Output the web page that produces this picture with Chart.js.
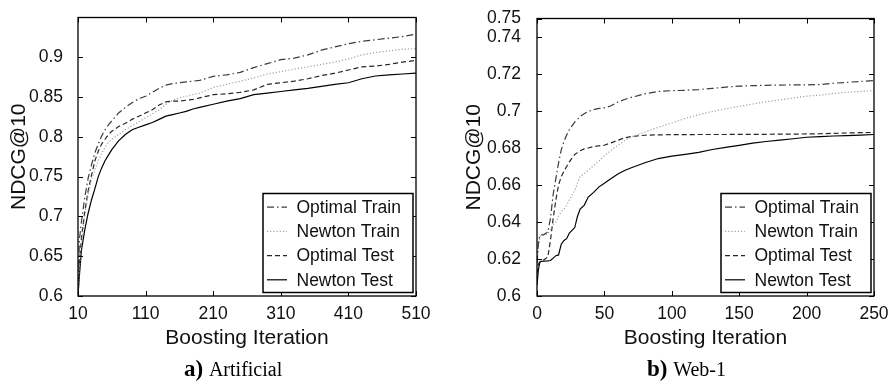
<!DOCTYPE html>
<html>
<head>
<meta charset="utf-8">
<script src="https://cdn.jsdelivr.net/npm/chart.js@4.4.1/dist/chart.umd.min.js"></script>
<style>
  html, body { margin: 0; padding: 0; background: #fff; }
  #wrap { position: relative; width: 894px; height: 382px; }
  canvas { position: absolute; top: 0; }
  #chartA { left: 0; }
  #chartB { left: 447px; }
</style>
</head>
<body>
<div id="wrap">
  <canvas id="chartA" width="447" height="382"></canvas>
  <canvas id="chartB" width="447" height="382"></canvas>
</div>
<script>
// Legend labels, same order in both panels
const seriesLabels = ['Optimal Train', 'Newton Train', 'Optimal Test', 'Newton Test'];

// a) Artificial
const itersA = [10, 12, 15, 20, 25, 30, 35, 40, 45, 50, 55, 60, 70, 80, 90, 100, 110, 120, 130, 140,
    150, 160, 170, 180, 190, 210, 230, 250, 270, 290, 310, 330, 350, 370, 390, 410, 430, 450, 470, 490, 510];
const optTrainA = [0.600, 0.670, 0.693, 0.724, 0.748, 0.765, 0.780, 0.791, 0.801, 0.809, 0.815, 0.820, 0.830, 0.837,
    0.843, 0.848, 0.851, 0.856, 0.861, 0.865, 0.867, 0.868, 0.869, 0.870, 0.871, 0.876, 0.878, 0.881, 0.887, 0.892,
    0.897, 0.899, 0.903, 0.909, 0.913, 0.917, 0.920, 0.922, 0.924, 0.926, 0.929];
const newtonTrainA = [0.600, 0.635, 0.665, 0.700, 0.728, 0.746, 0.759, 0.770, 0.779, 0.787, 0.793, 0.797, 0.803, 0.809,
    0.814, 0.819, 0.824, 0.829, 0.834, 0.841, 0.846, 0.849, 0.851, 0.853, 0.855, 0.862, 0.866, 0.870, 0.874, 0.879,
    0.882, 0.885, 0.888, 0.891, 0.894, 0.898, 0.903, 0.906, 0.908, 0.910, 0.911];
const optTestA = [0.600, 0.640, 0.672, 0.706, 0.732, 0.752, 0.770, 0.782, 0.791, 0.797, 0.803, 0.807, 0.813, 0.817,
    0.822, 0.826, 0.830, 0.834, 0.840, 0.844, 0.845, 0.845, 0.846, 0.847, 0.849, 0.853, 0.854, 0.856, 0.859, 0.866,
    0.868, 0.870, 0.873, 0.877, 0.880, 0.884, 0.888, 0.889, 0.891, 0.894, 0.896];
const newtonTestA = [0.600, 0.625, 0.657, 0.683, 0.704, 0.721, 0.735, 0.750, 0.761, 0.770, 0.777, 0.784, 0.795, 0.803,
    0.809, 0.812, 0.815, 0.818, 0.822, 0.826, 0.828, 0.830, 0.832, 0.835, 0.837, 0.841, 0.845, 0.848, 0.853, 0.855,
    0.857, 0.859, 0.861, 0.8635, 0.866, 0.868, 0.873, 0.8765, 0.878, 0.879, 0.880];
const xTicksA = [10, 110, 210, 310, 410, 510];
const yTicksA = [0.6, 0.65, 0.7, 0.75, 0.8, 0.85, 0.9];

// b) Web-1
const itersB = [0, 1, 2, 3, 5, 8, 10, 12, 14, 16, 18, 20, 22, 24, 26, 28, 30, 32, 35, 38, 42, 46, 50, 55, 60, 65,
    70, 75, 80, 90, 100, 110, 120, 130, 140, 150, 160, 170, 180, 190, 200, 210, 220, 230, 240, 250];
const optTrainB = [0.618, 0.628, 0.6328, 0.633, 0.6332, 0.6345, 0.642, 0.655, 0.6635, 0.672, 0.679, 0.6835, 0.687,
    0.690, 0.692, 0.694, 0.6955, 0.697, 0.6985, 0.6998, 0.7007, 0.7014, 0.7017, 0.7028, 0.7049, 0.7062, 0.7074,
    0.7083, 0.7093, 0.7106, 0.711, 0.7112, 0.7116, 0.7122, 0.7129, 0.7134, 0.7137, 0.7139, 0.714, 0.7141, 0.7141,
    0.7143, 0.715, 0.7155, 0.716, 0.7165];
const newtonTrainB = [0.615, 0.626, 0.632, 0.6328, 0.633, 0.6335, 0.636, 0.6385, 0.640, 0.643, 0.6455, 0.647, 0.649,
    0.652, 0.6545, 0.657, 0.661, 0.6645, 0.666, 0.668, 0.6705, 0.673, 0.6758, 0.6788, 0.6815, 0.684, 0.686, 0.6873,
    0.6885, 0.6912, 0.6935, 0.696, 0.698, 0.6997, 0.7012, 0.7025, 0.7038, 0.705, 0.706, 0.707, 0.708, 0.7086, 0.7095,
    0.7101, 0.7106, 0.711];
const optTestB = [0.612, 0.617, 0.6185, 0.619, 0.6195, 0.621, 0.630, 0.642, 0.652, 0.660, 0.6645, 0.6675, 0.670,
    0.6725, 0.6745, 0.6765, 0.6775, 0.6785, 0.6795, 0.680, 0.6808, 0.6812, 0.6815, 0.6828, 0.6842, 0.6855, 0.6862,
    0.6866, 0.6869, 0.6871, 0.6872, 0.6872, 0.6873, 0.6873, 0.6873, 0.6874, 0.6874, 0.6874, 0.6875, 0.6875, 0.6876,
    0.6877, 0.6879, 0.6881, 0.6883, 0.6884];
const newtonTestB = [0.606, 0.614, 0.618, 0.6187, 0.6188, 0.619, 0.6192, 0.6205, 0.6218, 0.6222, 0.628, 0.630, 0.631,
    0.634, 0.6355, 0.637, 0.643, 0.647, 0.649, 0.6535, 0.656, 0.659, 0.661, 0.6635, 0.666, 0.6678, 0.6693, 0.6707,
    0.672, 0.6743, 0.6756, 0.6766, 0.6776, 0.6792, 0.6803, 0.6814, 0.6826, 0.6835, 0.6843, 0.685, 0.6858, 0.6862,
    0.6865, 0.6867, 0.687, 0.6873];
const xTicksB = [0, 50, 100, 150, 200, 250];
const yTicksB = [0.6, 0.62, 0.64, 0.66, 0.68, 0.7, 0.72, 0.74, 0.75];

// Line styles: dash-dot, dotted, dashed, solid
const lineStyles = [
    { color: '#3c3c3c', dash: [7, 3, 1.5, 3], width: 1.2 },
    { color: '#a0a0a0', dash: [1.2, 2], width: 1.2 },
    { color: '#262626', dash: [5, 3], width: 1.2 },
    { color: '#000000', dash: [], width: 1.2 }
];

const SANS = '"Liberation Sans", Arial, Helvetica, sans-serif';
const SERIF = '"Liberation Serif", "Times New Roman", serif';

function makeDatasets(iters, seriesList) {
    return seriesList.map((vals, i) => ({
        label: seriesLabels[i],
        data: iters.map((x, k) => ({ x: x, y: vals[k] })),
        borderColor: lineStyles[i].color,
        borderDash: lineStyles[i].dash,
        borderWidth: lineStyles[i].width,
        pointRadius: 0,
        tension: 0,
        fill: false
    }));
}

// Box frame, inward ticks on all four sides, legend box and caption
function decorPlugin(caption) {
    return {
        id: 'decor',
        afterDatasetsDraw(chart) {
            const { ctx, chartArea: a, scales: { x, y } } = chart;
            ctx.save();
            ctx.strokeStyle = '#000';
            ctx.lineWidth = 1.3;
            ctx.setLineDash([]);
            ctx.strokeRect(a.left, a.top, a.right - a.left, a.bottom - a.top);

            ctx.lineWidth = 1;
            ctx.beginPath();
            x.ticks.forEach(t => {
                const px = Math.round(x.getPixelForValue(t.value)) + 0.5;
                ctx.moveTo(px, a.bottom); ctx.lineTo(px, a.bottom - 5);
                ctx.moveTo(px, a.top); ctx.lineTo(px, a.top + 5);
            });
            y.ticks.forEach(t => {
                const py = Math.round(y.getPixelForValue(t.value)) + 0.5;
                ctx.moveTo(a.left, py); ctx.lineTo(a.left + 5, py);
                ctx.moveTo(a.right, py); ctx.lineTo(a.right - 5, py);
            });
            ctx.stroke();

            // legend box in the lower right corner
            const bw = 150, bh = 99;
            const bx = a.right - 3 - bw, by = a.bottom - 3.5 - bh;
            ctx.fillStyle = '#fff';
            ctx.fillRect(bx, by, bw, bh);
            ctx.lineWidth = 1.5;
            ctx.strokeRect(bx, by, bw, bh);
            ctx.font = '17.5px ' + SANS;
            ctx.textBaseline = 'middle';
            ctx.textAlign = 'left';
            chart.data.datasets.forEach((ds, i) => {
                const ry = by + 13.7 + i * 24.2;
                ctx.strokeStyle = ds.borderColor;
                ctx.lineWidth = ds.borderWidth;
                ctx.setLineDash(ds.borderDash);
                ctx.beginPath();
                ctx.moveTo(bx + 4, ry);
                ctx.lineTo(bx + 24, ry);
                ctx.stroke();
                ctx.fillStyle = '#111';
                ctx.fillText(ds.label, bx + 33.5, ry + 1);
            });
            ctx.setLineDash([]);

            // panel caption, e.g. "a) Artificial"
            ctx.textBaseline = 'alphabetic';
            ctx.fillStyle = '#000';
            ctx.font = 'bold 23px ' + SERIF;
            ctx.fillText(caption.tag, caption.x, 376);
            const tagW = ctx.measureText(caption.tag + ' ').width;
            ctx.font = '20px ' + SERIF;
            ctx.fillText(caption.text, caption.x + tagW, 376);
            ctx.restore();
        }
    };
}

function drawPanel(id, p) {
    const ctx = document.getElementById(id).getContext('2d');
    const tickFont = { family: SANS, size: 17.5 };
    const titleFont = { family: SANS, size: 21 };

    new Chart(ctx, {
        type: 'line',
        data: { datasets: makeDatasets(p.iters, p.series) },
        options: {
            responsive: false,
            animation: false,
            layout: { padding: { left: 0, right: p.padRight, top: 9, bottom: 0 } },
            scales: {
                x: {
                    type: 'linear',
                    min: p.xMin,
                    max: p.xMax,
                    afterBuildTicks: s => { s.ticks = p.xTicks.map(v => ({ value: v })); },
                    afterFit: s => { s.height = 86; },
                    grid: { display: false },
                    border: { display: false },
                    ticks: { font: tickFont, color: '#111', padding: 0, maxRotation: 0, autoSkip: false,
                             callback: v => String(v) },
                    title: { display: true, text: 'Boosting Iteration', font: titleFont, color: '#111',
                             padding: { top: 0, bottom: 31 } }
                },
                y: {
                    type: 'linear',
                    min: p.yMin,
                    max: p.yMax,
                    afterBuildTicks: s => { s.ticks = p.yTicks.map(v => ({ value: v })); },
                    afterFit: s => { s.width = p.yWidth; },
                    grid: { display: false },
                    border: { display: false },
                    ticks: { font: tickFont, color: '#111', padding: p.yPad, autoSkip: false,
                             callback: v => String(v) },
                    title: { display: true, text: 'NDCG@10', font: titleFont, color: '#111',
                             padding: { top: p.yTitlePad, bottom: 0 } }
                }
            },
            plugins: {
                legend: { display: false },
                tooltip: { enabled: false }
            }
        },
        plugins: [decorPlugin(p.caption)]
    });
}

drawPanel('chartA', {
    iters: itersA,
    series: [optTrainA, newtonTrainA, optTestA, newtonTestA],
    xMin: 10, xMax: 510, xTicks: xTicksA,
    yMin: 0.6, yMax: 0.95, yTicks: yTicksA,
    yWidth: 78, yPad: 7, yTitlePad: 7, padRight: 31,
    caption: { tag: 'a)', text: 'Artificial', x: 184 }
});

drawPanel('chartB', {
    iters: itersB,
    series: [optTrainB, newtonTrainB, optTestB, newtonTestB],
    xMin: 0, xMax: 250, xTicks: xTicksB,
    yMin: 0.6, yMax: 0.75, yTicks: yTicksB,
    yWidth: 90, yPad: 8, yTitlePad: 15, padRight: 20,
    caption: { tag: 'b)', text: 'Web-1', x: 200 }
});
</script>
</body>
</html>
